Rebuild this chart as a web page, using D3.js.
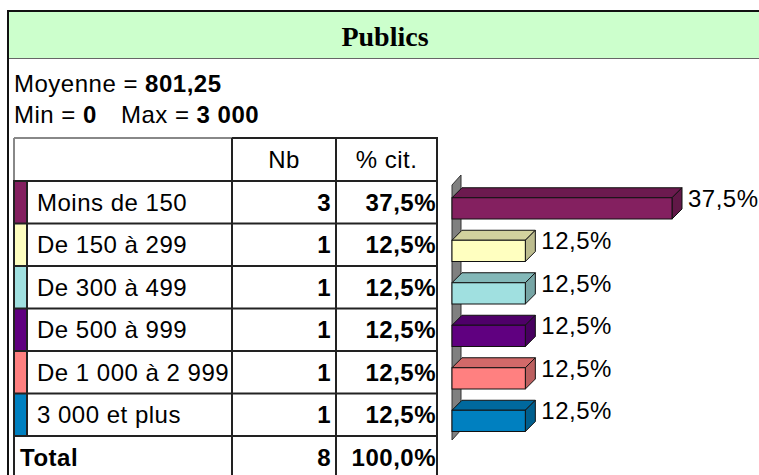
<!DOCTYPE html>
<html>
<head>
<meta charset="utf-8">
<script src="https://cdn.jsdelivr.net/npm/d3@7"></script>
<style>
  body { margin: 0; background: #fff; }
  svg { display: block; }
  text { font-family: "Liberation Sans", Arial, sans-serif; fill: #000; }
</style>
</head>
<body>
<div id="chart"></div>
<script>
var width = 759;
var height = 475;

// data
var title = 'Publics';
var categories = ['Moins de 150', 'De 150 à 299', 'De 300 à 499', 'De 500 à 999', 'De 1 000 à 2 999', '3 000 et plus'];
var counts = [3, 1, 1, 1, 1, 1];
var percents = [37.5, 12.5, 12.5, 12.5, 12.5, 12.5];
var colors = ['#842060', '#ffffc0', '#a0e0e0', '#600080', '#ff8080', '#0080c0'];
var moyenne = '801,25';
var minVal = '0';
var maxVal = '3 000';
var totalCount = 8;
var totalPercent = '100,0%';

var fmtPct = function(v) { return d3.format('.1f')(v).replace('.', ',') + '%'; };

var svg = d3.select('#chart')
  .append('svg')
  .attr('width', width)
  .attr('height', height);

// frame + header
svg.append('rect')
  .attr('x', 9).attr('y', 12)
  .attr('width', width - 9).attr('height', 46)
  .attr('fill', '#ccffcc');
svg.append('line')
  .attr('x1', 8).attr('x2', width).attr('y1', 58.5).attr('y2', 58.5)
  .attr('stroke', '#666').attr('stroke-width', 1);
svg.append('line')
  .attr('x1', 7).attr('x2', width).attr('y1', 11).attr('y2', 11)
  .attr('stroke', '#111').attr('stroke-width', 2);
svg.append('line')
  .attr('x1', 8).attr('x2', 8).attr('y1', 10).attr('y2', height)
  .attr('stroke', '#111').attr('stroke-width', 2);

svg.append('text')
  .attr('x', 385).attr('y', 46)
  .attr('text-anchor', 'middle')
  .style('font-family', '"Liberation Serif", "Times New Roman", serif')
  .style('font-weight', 'bold')
  .style('font-size', '28px')
  .text(title);

// stats
var stats = svg.append('g').style('font-size', '24px').style('letter-spacing', '0.5px');
var t1 = stats.append('text').attr('x', 14).attr('y', 92);
t1.append('tspan').text('Moyenne = ');
t1.append('tspan').style('font-weight', 'bold').text(moyenne);
var t2 = stats.append('text').attr('x', 14).attr('y', 123);
t2.append('tspan').text('Min = ');
t2.append('tspan').style('font-weight', 'bold').text(minVal);
t2.append('tspan').attr('dx', 24).text('Max = ');
t2.append('tspan').style('font-weight', 'bold').text(maxVal);

// table
var colX = [14, 27, 232, 336, 437];
var tableTop = 138;
var headerH = 43;
var rowY = d3.scaleBand()
  .domain(categories.concat(['Total']))
  .range([tableTop + headerH, tableTop + headerH + 42.5 * 7]);

var table = svg.append('g').style('font-size', '24px').style('letter-spacing', '0.5px');

// header
table.append('text')
  .attr('x', (colX[2] + colX[3]) / 2).attr('y', tableTop + headerH / 2 + 8)
  .attr('text-anchor', 'middle').text('Nb');
table.append('text')
  .attr('x', (colX[3] + colX[4]) / 2).attr('y', tableTop + headerH / 2 + 8)
  .attr('text-anchor', 'middle').text('% cit.');

var rows = table.selectAll('g.row')
  .data(categories)
  .enter().append('g')
  .attr('class', 'row')
  .attr('transform', function(d) { return 'translate(0,' + rowY(d) + ')'; });

rows.append('rect')
  .attr('x', colX[0]).attr('y', 0)
  .attr('width', colX[1] - colX[0]).attr('height', rowY.bandwidth())
  .attr('fill', function(d, i) { return colors[i]; });
rows.append('text')
  .attr('x', colX[1] + 10).attr('y', rowY.bandwidth() / 2 + 8.5)
  .text(function(d) { return d; });
rows.append('text')
  .attr('x', colX[3] - 5).attr('y', rowY.bandwidth() / 2 + 8.5)
  .attr('text-anchor', 'end').style('font-weight', 'bold')
  .text(function(d, i) { return counts[i]; });
rows.append('text')
  .attr('x', colX[4] - 1).attr('y', rowY.bandwidth() / 2 + 8.5)
  .attr('text-anchor', 'end').style('font-weight', 'bold')
  .text(function(d, i) { return fmtPct(percents[i]); });

// total row
var totY = rowY('Total');
table.append('text')
  .attr('x', 20).attr('y', totY + rowY.bandwidth() / 2 + 8.5)
  .style('font-weight', 'bold').text('Total');
table.append('text')
  .attr('x', colX[3] - 5).attr('y', totY + rowY.bandwidth() / 2 + 8.5)
  .attr('text-anchor', 'end').style('font-weight', 'bold').text(totalCount);
table.append('text')
  .attr('x', colX[4] - 1).attr('y', totY + rowY.bandwidth() / 2 + 8.5)
  .attr('text-anchor', 'end').style('font-weight', 'bold').text(totalPercent);

// grid lines
var grid = svg.append('g').attr('stroke-width', 2).attr('fill', 'none');
// header top/left (gray part on the empty cell)
grid.append('line').attr('x1', colX[0]).attr('x2', colX[2]).attr('y1', tableTop).attr('y2', tableTop).attr('stroke', '#888');
grid.append('line').attr('x1', colX[0]).attr('x2', colX[0]).attr('y1', tableTop).attr('y2', tableTop + headerH).attr('stroke', '#888');
grid.append('line').attr('x1', colX[2]).attr('x2', colX[4] + 1).attr('y1', tableTop).attr('y2', tableTop).attr('stroke', '#222');
// horizontal row lines
categories.concat(['Total']).forEach(function(c) {
  grid.append('line').attr('x1', colX[0] - 1).attr('x2', colX[4] + 1)
    .attr('y1', rowY(c)).attr('y2', rowY(c)).attr('stroke', '#222');
});
// verticals
grid.append('line').attr('x1', colX[0]).attr('x2', colX[0]).attr('y1', tableTop + headerH).attr('y2', height).attr('stroke', '#222');
grid.append('line').attr('x1', colX[1]).attr('x2', colX[1]).attr('y1', tableTop + headerH).attr('y2', totY).attr('stroke', '#222');
[colX[2], colX[3], colX[4]].forEach(function(x) {
  grid.append('line').attr('x1', x).attr('x2', x).attr('y1', tableTop).attr('y2', height).attr('stroke', '#222');
});

// 3D bars
var depth = 10;
var x = d3.scaleLinear().domain([0, 37.5]).range([452, 672]);
var y = d3.scaleBand()
  .domain(categories)
  .range([185, 440])
  .paddingInner(0.5)
  .paddingOuter(0.25)
  .align(0.6);

var chart = svg.append('g');

// side wall
var wx = x(0);
chart.append('path')
  .attr('d', 'M' + wx + ',' + 440 + 'L' + wx + ',' + 185 +
    'L' + (wx + depth - 1) + ',' + (185 - depth) + 'L' + (wx + depth - 1) + ',' + (440 - depth) + 'Z')
  .attr('fill', '#808080').attr('stroke', '#333').attr('stroke-width', 1);

var shade = function(c, k) { return d3.color(c).darker(k).formatHex(); };

var bars = chart.selectAll('g.bar')
  .data(categories)
  .enter().append('g')
  .attr('class', 'bar');

bars.append('path') // top face
  .attr('d', function(d, i) {
    var x0 = x(0), x1 = x(percents[i]), y0 = y(d);
    return 'M' + x0 + ',' + y0 + 'L' + (x0 + depth) + ',' + (y0 - depth) +
      'L' + (x1 + depth) + ',' + (y0 - depth) + 'L' + x1 + ',' + y0 + 'Z';
  })
  .attr('fill', function(d, i) { return shade(colors[i], 0.55); })
  .attr('stroke', '#111').attr('stroke-width', 1);

bars.append('path') // side face
  .attr('d', function(d, i) {
    var x1 = x(percents[i]), y0 = y(d), y1 = y(d) + y.bandwidth();
    return 'M' + x1 + ',' + y0 + 'L' + (x1 + depth) + ',' + (y0 - depth) +
      'L' + (x1 + depth) + ',' + (y1 - depth) + 'L' + x1 + ',' + y1 + 'Z';
  })
  .attr('fill', function(d, i) { return shade(colors[i], 0.85); })
  .attr('stroke', '#111').attr('stroke-width', 1);

bars.append('rect') // front face
  .attr('x', x(0))
  .attr('y', function(d) { return y(d); })
  .attr('width', function(d, i) { return x(percents[i]) - x(0); })
  .attr('height', y.bandwidth())
  .attr('fill', function(d, i) { return colors[i]; })
  .attr('stroke', '#111').attr('stroke-width', 1);

bars.append('text')
  .attr('x', function(d, i) { return x(percents[i]) + depth + 6; })
  .attr('y', function(d) { return y(d) + 9; })
  .style('font-size', '24px')
  .style('letter-spacing', '0.5px')
  .text(function(d, i) { return fmtPct(percents[i]); });
</script>
</body>
</html>
